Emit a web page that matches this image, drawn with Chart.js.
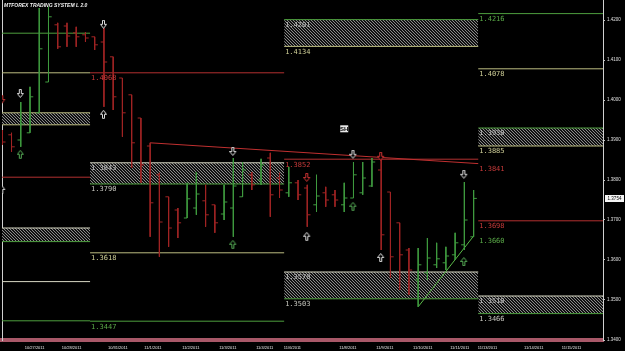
<!DOCTYPE html>
<html><head><meta charset="utf-8">
<script src="https://cdn.jsdelivr.net/npm/chart.js@4.4.0/dist/chart.umd.min.js"></script>
<style>html,body{margin:0;padding:0;background:#000;overflow:hidden}canvas{display:block}</style>
</head><body>
<canvas id="c" width="625" height="351"></canvas>
<script>
// ---- DATA ----
const barOpen  = [1.3918,1.3913,1.3900,1.3918,1.3968,1.4045,1.4188,1.4185,1.4168,1.4163,1.4158,1.4145,1.4108,1.4055,1.4013,1.3955,1.3885,1.3813,1.3758,1.3725,1.3705,1.3730,1.3748,1.3738,1.3715,1.3730,1.3758,1.3813,1.3800,1.3855,1.3805,1.3768,1.3793,1.3780,1.3738,1.3768,1.3763,1.3738,1.3755,1.3768,1.3785,1.3825,1.3770,1.3693,1.3625,1.3550,1.3568,1.3588,1.3593,1.3613,1.3638,1.3658];
const barHigh  = [1.3925,1.3918,1.3995,1.4033,1.4230,1.4233,1.4193,1.4193,1.4183,1.4170,1.4158,1.4180,1.4108,1.4055,1.4013,1.3955,1.3893,1.3818,1.3758,1.3730,1.3793,1.3820,1.3788,1.3738,1.3788,1.3855,1.3845,1.3820,1.3853,1.3868,1.3818,1.3833,1.3800,1.3788,1.3813,1.3783,1.3775,1.3793,1.3845,1.3845,1.3855,1.3863,1.3770,1.3693,1.3630,1.3630,1.3655,1.3643,1.3633,1.3668,1.3795,1.3775];
const barLow   = [1.3888,1.3870,1.3883,1.3918,1.3968,1.4045,1.4128,1.4133,1.4133,1.4145,1.4125,1.3983,1.3975,1.3908,1.3830,1.3793,1.3658,1.3608,1.3633,1.3655,1.3705,1.3713,1.3683,1.3668,1.3700,1.3658,1.3758,1.3775,1.3788,1.3708,1.3755,1.3758,1.3750,1.3683,1.3720,1.3733,1.3733,1.3720,1.3755,1.3763,1.3783,1.3625,1.3555,1.3525,1.3513,1.3483,1.3550,1.3580,1.3575,1.3600,1.3625,1.3658];
const barClose = [1.3895,1.3883,1.3940,1.4008,1.4128,1.4208,1.4133,1.4160,1.4158,1.4155,1.4138,1.4095,1.4008,1.3968,1.3893,1.3838,1.3743,1.3695,1.3680,1.3693,1.3753,1.3765,1.3713,1.3693,1.3745,1.3785,1.3825,1.3788,1.3838,1.3763,1.3775,1.3793,1.3763,1.3713,1.3760,1.3750,1.3750,1.3755,1.3813,1.3805,1.3845,1.3663,1.3608,1.3613,1.3575,1.3588,1.3605,1.3603,1.3610,1.3643,1.3700,1.3754];

const segStart = [-1, 9.5, 30.5, 51.5];
const segEnd   = [9.5, 30.5, 51.5, 66];

const lineSeg   = [0,0,0,0,0, 1,1,1, 2, 3,3,3];
const linePrice = [1.4167,1.4068,1.3807,1.3546,1.3448, 1.4068,1.3618,1.3447, 1.3852, 1.4216,1.4078,1.3698];
const lineKind  = ['G','Y','R','W','G', 'R','Y','G', 'R', 'G','Y','R'];

const zoneSeg        = [0,0,1,2,2,3,3];
const zoneTop        = [1.3968,1.3680,1.3843,1.4201,1.3570,1.3930,1.3510];
const zoneBottom     = [1.3938,1.3646,1.3790,1.4134,1.3503,1.3885,1.3466];
const zoneTopKind    = ['Y','W','W','G','W','G','W'];
const zoneBottomKind = ['Y','G','G','Y','G','Y','G'];

const trendRedX   = [16, 51.5];
const trendRedY   = [1.3893, 1.3841];
const trendGreenX = [45, 51];
const trendGreenY = [1.3483, 1.3660];

const arrowBar   = [0,0,2,2,11,11,25,25,33,33,38,38,41,41,50,50];
const arrowPrice = [1.4000,1.3775,1.4015,1.3863,1.4188,1.3963,1.3870,1.3638,1.3805,1.3658,1.3863,1.3733,1.3858,1.3605,1.3813,1.3595];
const arrowKind  = ['downRed','upWhite','downWhite','upGreen','downWhite','upWhite','downWhite','upGreen','downRed','upWhite','downWhite','upGreen','downRed','upWhite','downWhite','upGreen'];

const markBar = [37];
const markPrice = [1.3928];
const markText = ['SH'];

const dateLabels = ['10/27/2011','10/28/2011','10/31/2011','11/1/2011','11/2/2011','11/3/2011','11/4/2011','11/6/2011','11/8/2011','11/9/2011','11/10/2011','11/11/2011','11/13/2011','11/14/2011','11/15/2011'];
const datePos    = [3.5,7.5,12.5,16.3,20.4,24.4,28.4,31.4,37.4,41.4,45.5,49.5,52.5,57.5,61.6];

const titleText = 'MTFOREX TRADING SYSTEM L 2.0';

// ---- STYLE ----
const COL = {R:'#b23030', G:'#4e9e3e', Y:'#bcbc80', W:'#d8d8c4'};
const LBL = {R:'#c83a3a', G:'#5aaa48', Y:'#d0d098', W:'#c8c8c0'};
const RED = '#a02424', GREEN = '#3f9a3f';

const canvas = document.getElementById('c');
const ctx0 = canvas.getContext('2d');
const hatch = (() => {
  const c = document.createElement('canvas'); c.width = 3; c.height = 3;
  const g = c.getContext('2d');
  g.fillStyle = '#101010'; g.fillRect(0,0,3,3);
  g.fillStyle = '#8a8a8a';
  for (let i = 0; i < 3; i++) g.fillRect(i, i, 1, 1);
  return ctx0.createPattern(c, 'repeat');
})();

function arrowImg(dir, color) {
  const c = document.createElement('canvas'); c.width = 8; c.height = 10;
  const g = c.getContext('2d');
  g.translate(0.5, 0.5);
  const pts = [[2,0],[4,0],[4,4],[6,4],[3,8],[0,4],[2,4]];
  g.beginPath();
  pts.forEach(([px,py],i) => { const yy = dir === 'down' ? py : 8 - py; i ? g.lineTo(px,yy) : g.moveTo(px,yy); });
  g.closePath();
  g.fillStyle = '#000'; g.fill();
  g.strokeStyle = color; g.lineWidth = 1; g.stroke();
  return c;
}
const ARROWS = {
  downWhite: arrowImg('down', '#dcdcdc'),
  upWhite: arrowImg('up', '#dcdcdc'),
  upGreen: arrowImg('up', '#55aa55'),
  downRed: arrowImg('down', '#cc3333')
};

// ---- DATASETS ----
const datasets = [];
const base = {pointRadius:0, borderWidth:1, tension:0, spanGaps:false};

zoneSeg.forEach((s,i) => {
  const idx = datasets.length;
  datasets.push({...base, order:30, borderColor:COL[zoneTopKind[i]], backgroundColor:hatch, fill:idx+1,
    data:[{x:segStart[s],y:zoneTop[i]},{x:segEnd[s],y:zoneTop[i]}]});
  datasets.push({...base, order:30, borderColor:COL[zoneBottomKind[i]], fill:false,
    data:[{x:segStart[s],y:zoneBottom[i]},{x:segEnd[s],y:zoneBottom[i]}]});
});
lineSeg.forEach((s,i) => {
  datasets.push({...base, order:20, borderColor:COL[lineKind[i]], fill:false,
    data:[{x:segStart[s],y:linePrice[i]},{x:segEnd[s],y:linePrice[i]}]});
});
datasets.push({...base, order:15, borderColor:'#c03030', fill:false,
  data: trendRedX.map((v,i)=>({x:v,y:trendRedY[i]}))});
datasets.push({...base, order:15, borderColor:'#5ab848', fill:false,
  data: trendGreenX.map((v,i)=>({x:v,y:trendGreenY[i]}))});

const upPts = [], dnPts = [];
barOpen.forEach((o,i) => {
  const h = barHigh[i], l = barLow[i], c = barClose[i];
  const arr = c >= o ? upPts : dnPts;
  arr.push({x:i,y:h},{x:i,y:l},{x:i,y:null},
           {x:i-0.35,y:o},{x:i,y:o},{x:i,y:null},
           {x:i,y:c},{x:i+0.35,y:c},{x:i,y:null});
});
datasets.push({...base, order:10, borderColor:RED, fill:false, data:dnPts});
datasets.push({...base, order:10, borderColor:GREEN, fill:false, data:upPts});

datasets.push({type:'scatter', order:5, clip:0, showLine:false,
  data: arrowBar.map((b,i)=>({x:b,y:arrowPrice[i]})),
  pointStyle: (ctx) => ARROWS[arrowKind[ctx.dataIndex]],
  pointRadius: 4, pointHoverRadius: 0});

// ---- PLUGIN: background + texts ----
const textPlugin = {
  id: 'texts',
  beforeDraw(chart) {
    const c = chart.ctx; c.save(); c.fillStyle = '#000'; c.fillRect(0,0,chart.width,chart.height); c.restore();
  },
  afterDatasetsDraw(chart) {
    const c = chart.ctx, x = chart.scales.x, y = chart.scales.y;
    c.save();
    c.font = "7px 'DejaVu Sans Mono'";
    c.textBaseline = 'top'; c.textAlign = 'left';
    lineSeg.forEach((s,i) => {
      if (s === 0) return;
      c.fillStyle = LBL[lineKind[i]];
      c.fillText(linePrice[i].toFixed(4), x.getPixelForValue(segStart[s]) + 1, y.getPixelForValue(linePrice[i]) + 2);
    });
    zoneSeg.forEach((s,i) => {
      if (s === 0) return;
      const px = x.getPixelForValue(segStart[s]) + 1;
      c.fillStyle = '#c4c4c4';
      c.fillText(zoneTop[i].toFixed(4), px, y.getPixelForValue(zoneTop[i]) + 2);
      c.fillStyle = LBL[zoneBottomKind[i] === 'G' ? 'W' : 'Y'];
      c.fillText(zoneBottom[i].toFixed(4), px, y.getPixelForValue(zoneBottom[i]) + 2);
    });
    const lx = x.getPixelForValue(segStart[3]) + 1;
    c.fillStyle = LBL.R;
    c.fillText(trendRedY[1].toFixed(4), lx, y.getPixelForValue(trendRedY[1]) + 2);
    c.fillStyle = LBL.G;
    c.fillText(trendGreenY[1].toFixed(4), lx, y.getPixelForValue(trendGreenY[1]) + 2);

    c.font = "bold 6px 'Liberation Sans'";
    c.textAlign = 'center'; c.textBaseline = 'middle';
    markBar.forEach((b,i) => {
      const px = x.getPixelForValue(b), py = y.getPixelForValue(markPrice[i]);
      c.fillStyle = '#e8e8e8'; c.fillRect(px-4, py-3.5, 8, 7);
      c.fillStyle = '#000'; c.fillText(markText[i], px, py+0.5);
    });

    c.textAlign = 'left'; c.textBaseline = 'top';
    c.font = "italic bold 5px 'Liberation Sans'";
    c.fillStyle = '#f0f0f0';
    c.fillText(titleText, 4, 3);
    c.restore();
  },
  afterDraw(chart) {
    const c = chart.ctx, y = chart.scales.y;
    const last = barClose[barClose.length-1];
    const py = y.getPixelForValue(last);
    c.save();
    c.fillStyle = '#f4f4f4';
    c.fillRect(y.left + 2, Math.round(py) - 3, 19, 7);
    c.fillStyle = '#000';
    c.font = "4.5px 'Liberation Sans'";
    c.textAlign = 'center'; c.textBaseline = 'middle';
    c.fillText(last.toFixed(4), y.left + 11.5, Math.round(py) + 0.5);
    c.restore();
  }
};

new Chart(canvas, {
  type: 'line',
  data: { datasets },
  options: {
    responsive: false, animation: false, devicePixelRatio: 1, events: [],
    layout: { padding: 0, autoPadding: false },
    plugins: { legend:{display:false}, tooltip:{enabled:false}, filler:{drawTime:'beforeDatasetsDraw'} },
    scales: {
      x: {
        type:'linear', min:-0.03, max:65, position:'bottom',
        afterBuildTicks: s => { s.ticks = datePos.map(v => ({value:v})); },
        afterFit: s => { s.height = 11; s.paddingLeft = 0; s.paddingRight = 0; },
        ticks: { autoSkip:false, maxRotation:0, minRotation:0, padding:5, color:'#e8e8e8',
          font:{size:4, family:'Liberation Sans'}, callback:(v,i) => dateLabels[i] },
        grid: { display:true, drawOnChartArea:false, drawTicks:false },
        border: { display:true, color:'#a85868', width:4 }
      },
      y: {
        type:'linear', position:'right', min:1.34, max:1.425,
        afterFit: s => { s.width = 22; s.paddingTop = 0; s.paddingBottom = 0; },
        ticks: { stepSize:0.01, includeBounds:false, padding:2, color:'#e0e0e0',
          font:{size:4.5, family:'Liberation Sans'}, callback: v => v.toFixed(4) },
        grid: { display:true, drawOnChartArea:false, drawTicks:true, tickLength:2, color:'#c0c0c0' },
        border: { display:true, color:'#d0d0d0', width:1 }
      },
      yL: {
        type:'linear', position:'left', min:1.34, max:1.425,
        afterFit: s => { s.width = 2; s.paddingTop = 0; s.paddingBottom = 0; },
        ticks: { display:false }, grid: { display:false },
        border: { display:true, color:'#d0d0d0', width:1 }
      }
    }
  },
  plugins: [textPlugin]
});
</script>
</body></html>
